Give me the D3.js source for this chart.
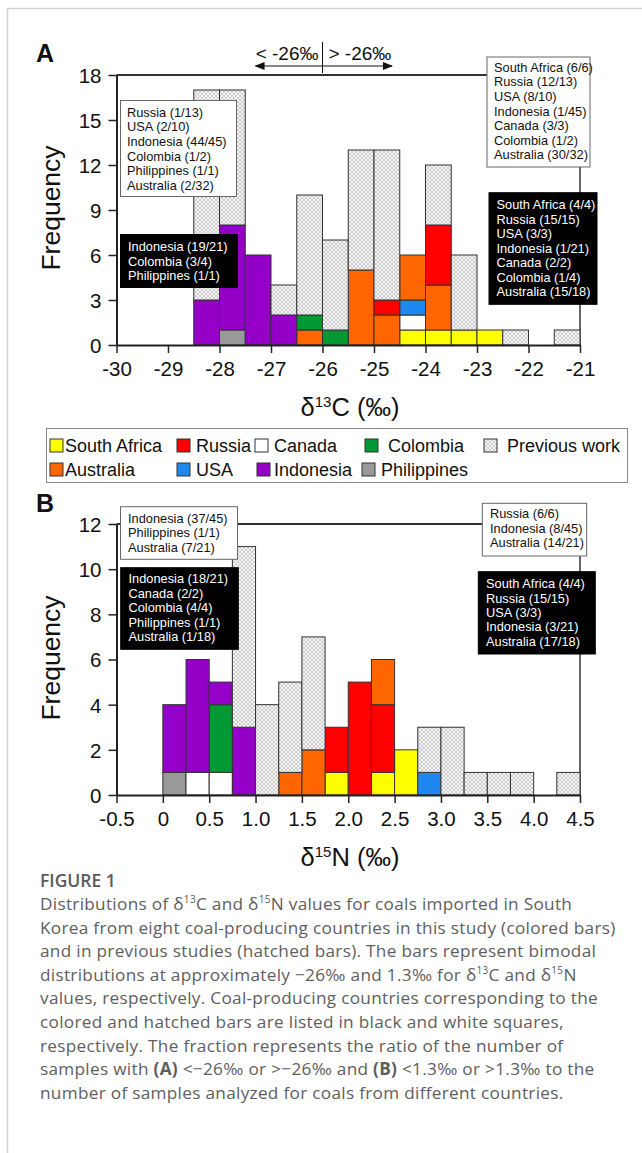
<!DOCTYPE html>
<html><head><meta charset="utf-8">
<script src="https://cdn.jsdelivr.net/npm/d3@7"></script>
<style>
html,body{margin:0;padding:0;background:#fff;}
svg{display:block;}
</style></head>
<body>
<svg id="chart" width="642" height="1153"></svg>
<script>
// ---------- DATA ----------
const countries = ["South Africa","Russia","Canada","Colombia","Previous work","Australia","USA","Indonesia","Philippines"];
const colors = {"South Africa":"#ffff00","Russia":"#ff0000","Canada":"#ffffff","Colombia":"#009933","Australia":"#ff6600","USA":"#1e88f0","Indonesia":"#9400c8","Philippines":"#999999","Previous work":"url(#hatch)"};

// Panel A: d13C, bins 0.5 wide (left edges)
const binsA = [-28.5,-28,-27.5,-27,-26.5,-26,-25.5,-25,-24.5,-24,-23.5,-23,-22.5,-22,-21.5];
const aSouthAfrica = [0,0,0,0,0,0,0,0,1,1,1,1,0,0,0];
const aPhilippines = [0,1,0,0,0,0,0,0,0,0,0,0,0,0,0];
const aCanada      = [0,0,0,0,0,0,0,0,1,0,0,0,0,0,0];
const aUSA         = [0,0,0,0,0,0,0,0,1,0,0,0,0,0,0];
const aAustralia   = [0,0,0,0,1,0,5,2,3,3,0,0,0,0,0];
const aColombia    = [0,0,0,0,1,1,0,0,0,0,0,0,0,0,0];
const aRussia      = [0,0,0,0,0,0,0,1,0,4,0,0,0,0,0];
const aIndonesia   = [3,7,6,2,0,0,0,0,0,0,0,0,0,0,0];
const aPrevious    = [14,9,0,2,8,6,8,10,0,4,5,0,1,0,1];
const ticksA = [-30,-29,-28,-27,-26,-25,-24,-23,-22,-21];
const yTicksA = [0,3,6,9,12,15,18];

// Panel B: d15N, bins 0.25 wide (left edges)
const binsB = [0,0.25,0.5,0.75,1.0,1.25,1.5,1.75,2.0,2.25,2.5,2.75,3.0,3.25,3.5,3.75,4.0,4.25];
const bSouthAfrica = [0,0,0,0,0,0,0,1,0,1,2,0,0,0,0,0,0,0];
const bPhilippines = [1,0,0,0,0,0,0,0,0,0,0,0,0,0,0,0,0,0];
const bCanada      = [0,1,1,0,0,0,0,0,0,0,0,0,0,0,0,0,0,0];
const bUSA         = [0,0,0,0,0,0,0,0,0,0,0,1,0,0,0,0,0,0];
const bColombia    = [0,0,3,0,0,0,0,0,0,0,0,0,0,0,0,0,0,0];
const bRussia      = [0,0,0,0,0,0,0,2,5,3,0,0,0,0,0,0,0,0];
const bAustralia   = [0,0,0,0,0,1,2,0,0,2,0,0,0,0,0,0,0,0];
const bIndonesia   = [3,5,1,3,0,0,0,0,0,0,0,0,0,0,0,0,0,0];
const bPrevious    = [0,0,0,8,4,4,5,0,0,0,0,2,3,1,1,1,0,1];
const ticksB = [-0.5,0,0.5,1.0,1.5,2.0,2.5,3.0,3.5,4.0,4.5];
const tickLabelsB = ["-0.5","0","0.5","1.0","1.5","2.0","2.5","3.0","3.5","4.0","4.5"];
const yTicksB = [0,2,4,6,8,10,12];

// Annotation boxes
const aWhiteLeft  = ["Russia (1/13)","USA (2/10)","Indonesia (44/45)","Colombia (1/2)","Philippines (1/1)","Australia (2/32)"];
const aBlackLeft  = ["Indonesia (19/21)","Colombia (3/4)","Philippines (1/1)"];
const aWhiteRight = ["South Africa (6/6)","Russia (12/13)","USA (8/10)","Indonesia (1/45)","Canada (3/3)","Colombia (1/2)","Australia (30/32)"];
const aBlackRight = ["South Africa (4/4)","Russia (15/15)","USA (3/3)","Indonesia (1/21)","Canada (2/2)","Colombia (1/4)","Australia (15/18)"];
const bWhiteLeft  = ["Indonesia (37/45)","Philippines (1/1)","Australia (7/21)"];
const bBlackLeft  = ["Indonesia (18/21)","Canada (2/2)","Colombia (4/4)","Philippines (1/1)","Australia (1/18)"];
const bWhiteRight = ["Russia (6/6)","Indonesia (8/45)","Australia (14/21)"];
const bBlackRight = ["South Africa (4/4)","Russia (15/15)","USA (3/3)","Indonesia (3/21)","Australia (17/18)"];

const captionLines = [
 "Distributions of δ|13|C and δ|15|N values for coals imported in South",
 "Korea from eight coal-producing countries in this study (colored bars)",
 "and in previous studies (hatched bars). The bars represent bimodal",
 "distributions at approximately −26‰ and 1.3‰ for δ|13|C and δ|15|N",
 "values, respectively. Coal-producing countries corresponding to the",
 "colored and hatched bars are listed in black and white squares,",
 "respectively. The fraction represents the ratio of the number of",
 "samples with #(A)# <−26‰ or >−26‰ and #(B)# <1.3‰ or >1.3‰ to the",
 "number of samples analyzed for coals from different countries."
];

// ---------- DRAW ----------
const svg = d3.select("#chart");
const FONT = "'Liberation Sans', Arial, Helvetica, sans-serif";
const defs = svg.append("defs");
const pat = defs.append("pattern").attr("id","hatch").attr("patternUnits","userSpaceOnUse")
  .attr("width",4).attr("height",4);
pat.append("rect").attr("width",4).attr("height",4).attr("fill","#f6f6f6");
pat.append("path").attr("d","M0,0L4,4M4,0L0,4").attr("stroke","#b0b0b0").attr("stroke-width",0.6);

// outer frame
svg.append("path").attr("d","M7.5,1153 L7.5,8.5 L642,8.5").attr("fill","none").attr("stroke","#d4d4d4").attr("stroke-width",1.5);

function panel(opt){
  const g = svg.append("g");
  const x = d3.scaleLinear().domain(opt.xDomain).range([116.5,580]);
  const y = d3.scaleLinear().domain(opt.yDomain).range([opt.y0,opt.y1]);
  g.append("line").attr("x1",116.5).attr("x2",580).attr("y1",opt.y1).attr("y2",opt.y1)
    .attr("stroke","#333").attr("stroke-width",2.2);
  g.append("line").attr("x1",580).attr("x2",580).attr("y1",opt.y1).attr("y2",opt.y0)
    .attr("stroke","#333").attr("stroke-width",1.5);
  const rows = opt.bins.map((b,i)=>{const r={bin:b}; opt.keys.forEach(k=>r[k]=opt.series[k][i]); return r;});
  const stack = d3.stack().keys(opt.keys)(rows);
  stack.forEach(layer=>{
    g.append("g").selectAll("rect").data(layer.filter(d=>d[1]>d[0])).join("rect")
      .attr("x",d=>x(d.data.bin)).attr("width",d=>x(d.data.bin+opt.w)-x(d.data.bin))
      .attr("y",d=>y(d[1])).attr("height",d=>y(d[0])-y(d[1]))
      .attr("fill",colors[layer.key]).attr("stroke","#333").attr("stroke-width",1);
  });
  const xa = g.append("g").attr("transform",`translate(0,${opt.y0})`)
    .call(d3.axisBottom(x).tickValues(opt.xTicks).tickFormat((d,i)=>opt.xLabels[i]).tickSize(8).tickSizeOuter(0));
  const ya = g.append("g").attr("transform",`translate(116.5,0)`)
    .call(d3.axisLeft(y).tickValues(opt.yTicks).tickSize(8).tickSizeOuter(0));
  [xa,ya].forEach(a=>{
    a.select(".domain").attr("stroke","#222").attr("stroke-width",2);
    a.selectAll(".tick line").attr("stroke","#222").attr("stroke-width",1.5);
    a.selectAll("text").attr("font-family",FONT).attr("font-size",20.5).attr("fill","#111");
  });
  xa.selectAll("text").attr("y",16).attr("dy","0.71em");
  ya.selectAll("text").attr("x",-15).attr("dy","0.36em");
  g.append("text").attr("transform",`translate(60,${opt.yTitleC}) rotate(-90)`).attr("text-anchor","middle")
    .attr("font-family",FONT).attr("font-size",26.5).attr("fill","#111").text("Frequency");
  const xt = g.append("text").attr("x",350).attr("y",opt.xTitleY).attr("text-anchor","middle")
    .attr("font-family",FONT).attr("font-size",25.5).attr("fill","#111");
  xt.append("tspan").text("δ");
  xt.append("tspan").attr("font-size",15).attr("dy",-9).text(opt.iso);
  xt.append("tspan").attr("dy",9).text(opt.el+" (‰)");
  g.append("text").attr("x",36).attr("y",opt.letterY).attr("font-family",FONT).attr("font-weight","bold")
    .attr("font-size",25).attr("fill","#111").text(opt.letter);
  return g;
}

function box(lines,bx,by,bw,bh,tx,ty,lh,dark){
  const g = svg.append("g");
  g.append("rect").attr("x",bx).attr("y",by).attr("width",bw).attr("height",bh)
    .attr("fill",dark?"#000":"#fff").attr("stroke",dark?"#000":"#666").attr("stroke-width",1);
  g.selectAll("text").data(lines).join("text").attr("x",tx).attr("y",(d,i)=>ty+i*lh)
    .attr("font-family",FONT).attr("font-size",12.8).attr("fill",dark?"#fff":"#111").text(d=>d);
}

panel({xDomain:[-30,-21],yDomain:[0,18],y0:345,y1:75,w:0.5,bins:binsA,
  keys:["South Africa","Philippines","Canada","USA","Australia","Colombia","Russia","Indonesia","Previous work"],
  series:{"South Africa":aSouthAfrica,"Philippines":aPhilippines,"Canada":aCanada,"USA":aUSA,"Australia":aAustralia,
    "Colombia":aColombia,"Russia":aRussia,"Indonesia":aIndonesia,"Previous work":aPrevious},
  xTicks:ticksA,xLabels:ticksA.map(String),yTicks:yTicksA,iso:"13",el:"C",xTitleY:416,yTitleC:208,letter:"A",letterY:62});

panel({xDomain:[-0.5,4.5],yDomain:[0,12],y0:795,y1:524,w:0.25,bins:binsB,
  keys:["South Africa","Philippines","Canada","USA","Colombia","Russia","Australia","Indonesia","Previous work"],
  series:{"South Africa":bSouthAfrica,"Philippines":bPhilippines,"Canada":bCanada,"USA":bUSA,"Colombia":bColombia,
    "Russia":bRussia,"Australia":bAustralia,"Indonesia":bIndonesia,"Previous work":bPrevious},
  xTicks:ticksB,xLabels:tickLabelsB,yTicks:yTicksB,iso:"15",el:"N",xTitleY:866,yTitleC:658,letter:"B",letterY:512});

// annotation above panel A
{
  const xA = d3.scaleLinear().domain([-30,-21]).range([116.5,580]);
  const g = svg.append("g");
  defs.append("marker").attr("id","arr").attr("viewBox","0 0 10 10").attr("refX",9).attr("refY",5)
    .attr("markerWidth",10).attr("markerHeight",10).attr("markerUnits","userSpaceOnUse").attr("orient","auto-start-reverse")
    .append("path").attr("d","M0,1L10,5L0,9Z").attr("fill","#111");
  g.append("line").attr("x1",xA(-27.3)).attr("x2",xA(-24.65)).attr("y1",66).attr("y2",66)
    .attr("stroke","#111").attr("stroke-width",1.2).attr("marker-start","url(#arr)").attr("marker-end","url(#arr)");
  g.append("line").attr("x1",xA(-26)).attr("x2",xA(-26)).attr("y1",42).attr("y2",73).attr("stroke","#111").attr("stroke-width",1);
  g.append("text").attr("x",xA(-26)-4).attr("y",60).attr("text-anchor","end").attr("font-family",FONT)
    .attr("font-size",19).attr("fill","#111").text("< -26‰");
  g.append("text").attr("x",xA(-26)+6).attr("y",60).attr("text-anchor","start").attr("font-family",FONT)
    .attr("font-size",19).attr("fill","#111").text("> -26‰");
}

box(aWhiteLeft,120.5,100.5,116,96,127,116.7,14.65,false);
box(aBlackLeft,120.5,234.5,117,53,128,251,14.65,true);
box(aWhiteRight,487,57,103,110,494,71.7,14.6,false);
box(aBlackRight,489,192.7,108,111.6,496.5,209.3,14.45,true);
box(bWhiteLeft,120.5,506.7,117,52.6,128,522.7,14.65,false);
box(bBlackLeft,120.7,567.7,117.6,81.6,128.5,583.3,14.4,true);
box(bWhiteRight,482.3,503.3,104.4,52.7,490,518.3,14.5,false);
box(bBlackRight,478.3,571.7,117,82.3,486,588.3,14.35,true);

// legend
{
  const g = svg.append("g");
  g.append("rect").attr("x",46.5).attr("y",428.5).attr("width",581).attr("height",54)
    .attr("fill","#fff").attr("stroke","#888").attr("stroke-width",1);
  const items = [
    {k:"South Africa",sx:50,tx:65,row:0},{k:"Russia",sx:177,tx:196,row:0},{k:"Canada",sx:255,tx:274,row:0},
    {k:"Colombia",sx:365,tx:388,row:0},{k:"Previous work",sx:484,tx:507,row:0},
    {k:"Australia",sx:50,tx:65,row:1},{k:"USA",sx:177,tx:196,row:1},{k:"Indonesia",sx:257,tx:274,row:1},
    {k:"Philippines",sx:362,tx:381,row:1}];
  const ig = g.selectAll("g").data(items).join("g");
  ig.append("rect").attr("x",d=>d.sx).attr("y",d=>439+d.row*24).attr("width",13).attr("height",13)
    .attr("fill",d=>colors[d.k]).attr("stroke","#333").attr("stroke-width",1);
  ig.append("text").attr("x",d=>d.tx).attr("y",d=>452+d.row*24).attr("font-family",FONT).attr("font-size",18)
    .attr("fill","#111").text(d=>d.k);
}

// caption
{
  const CF = "'Open Sans', Lato, sans-serif";
  const g = svg.append("g");
  g.append("text").attr("x",40).attr("y",887).attr("font-family",CF).attr("font-weight",600).attr("font-size",17.5)
    .attr("fill","#5a5a5a").text("FIGURE 1");
  captionLines.forEach((line,i)=>{
    const t = g.append("text").attr("x",40).attr("y",910+i*23.6).attr("font-family",CF).attr("font-size",17.2)
      .attr("letter-spacing",0.3).attr("fill","#5e5e5e");
    const parts = line.split(/(\|[^|]+\||#[^#]+#)/).filter(s=>s.length);
    let pendingDy = 0;
    parts.forEach(p=>{
      if(p[0]==="|"){ t.append("tspan").attr("font-size",10).attr("dy",-7+pendingDy).text(p.slice(1,-1)); pendingDy = 7; }
      else if(p[0]==="#"){ const s=t.append("tspan").attr("font-weight","bold").text(p.slice(1,-1)); if(pendingDy){s.attr("dy",pendingDy);pendingDy=0;} }
      else { const s=t.append("tspan").text(p); if(pendingDy){s.attr("dy",pendingDy);pendingDy=0;} }
    });
  });
}
</script>
</body></html>
